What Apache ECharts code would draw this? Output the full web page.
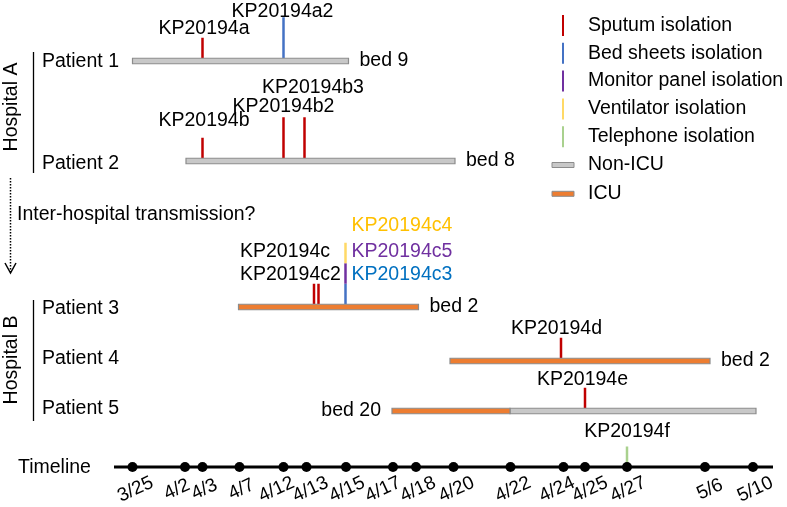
<!DOCTYPE html>
<html><head><meta charset="utf-8">
<script src="https://cdn.jsdelivr.net/npm/echarts@6/dist/echarts.min.js"></script>
<style>html,body{margin:0;padding:0;background:#fff}#c{width:787px;height:507px}</style>
</head><body><div id="c"></div>
<script>
// ---------------- data ----------------
const dateLabels = ['3/25','4/2','4/3','4/7','4/12','4/13','4/15','4/17','4/18','4/20','4/22','4/24','4/25','4/27','5/6','5/10'];
// schematic (non-linear) timeline positions of each date
const datePositions = [132.5,185,202.5,239.5,283.5,306.5,346,393,416,453.5,510.5,563.5,585,627,705,753];
const patients = ['Patient 1','Patient 2','Patient 3','Patient 4','Patient 5'];
const beds = ['bed 9','bed 8','bed 2','bed 2','bed 20'];
const hospitals = ['Hospital A','Hospital B'];
// stays: [patientIndex, start, end] on the schematic timeline
const nonIcuStays = [[0,132.5,348.5],[1,186,455],[4,510,756]];
const icuStays = [[2,238.5,418.5],[3,450,710],[4,392,510]];
// isolates: [row (0-4 patients, 5 timeline), position, fromLevel, toLevel, isolate]
const sputum = [[0,202.5,0,1,'KP20194a'],[1,202.5,0,1,'KP20194b'],[1,283.5,0,2,'KP20194b2'],[1,304.5,0,2,'KP20194b3'],[2,314,0,1,'KP20194c'],[2,318.5,0,1,'KP20194c2'],[3,561,0,1,'KP20194d'],[4,585,0,1,'KP20194e']];
const bedSheets = [[0,283.5,0,2,'KP20194a2'],[2,345.5,0,1,'KP20194c3']];
const monitorPanel = [[2,345.5,1,2,'KP20194c5']];
const ventilator = [[2,345.5,2,3,'KP20194c4']];
const telephone = [[5,627,0,1,'KP20194f']];

// ---------------- layout / style ----------------
const FONT = '"Liberation Sans", Arial, Helvetica, sans-serif';
const FS = 19.5;
const laneY = [61, 161, 307, 361, 411, 467];
const nameY = [62, 164, 309, 359, 409];
const nameX = 42;
const barH = 5.5;
const unit = 20.5;
const timelineExtent = [114, 773];
const dateLabelShift = [3,-8,2,2,-7,4,1,-10,2,3,2.5,-6.5,5,1,5,2.3];
const bedSide = ['right','right','right','right','left'];
const bedGap = 11;
const C = {sputum:'#c00000', bed:'#4472c4', monitor:'#7030a0', vent:'#ffd966', tel:'#a9d18e', nonicu:'#c8c8c8', icu:'#ed7d31', border:'#8c8c8c'};
const labelLayout = {
  KP20194a:{dx:1.5,dy:-9.5}, KP20194a2:{dx:-1,dy:-6},
  KP20194b:{dx:1.5,dy:-17.5}, KP20194b2:{dx:0,dy:-10.5}, KP20194b3:{dx:8.5,dy:-30},
  KP20194c:{dx:-74,dy:-32,align:'left'}, KP20194c2:{dx:-78.5,dy:-9,align:'left'},
  KP20194c3:{dx:6,dy:-9,align:'left',color:'#0070c0'},
  KP20194c5:{dx:6,dy:-11.5,align:'left',color:'#7030a0'},
  KP20194c4:{dx:6,dy:-17.5,align:'left',color:'#ffc000'},
  KP20194d:{dx:-4.5,dy:-9}, KP20194e:{dx:-2.5,dy:-8}, KP20194f:{dx:0,dy:-14.5}
};

function isoSeries(name, color, rows) {
  return {
    type:'custom', name, coordinateSystem:'cartesian2d', z:3,
    itemStyle:{color, borderWidth:0},
    data: rows.map(r => [r[1], laneY[r[0]], r[2], r[3], r[0]]),
    encode:{x:0, y:1},
    renderItem(params, api) {
      const x = api.value(0), y = api.value(1), f = api.value(2), t = api.value(3), row = api.value(4);
      const base = row === 5 ? 0 : barH / 2;
      const p0 = api.coord([x, y - base - f * unit]);
      const p1 = api.coord([x, y - base - t * unit]);
      const label = rows[params.dataIndex][4];
      const L = labelLayout[label] || {dx:0, dy:-9};
      return {type:'group', children:[
        {type:'line', shape:{x1:p0[0], y1:p0[1], x2:p1[0], y2:p1[1]}, style:{stroke:color, lineWidth:2.5}},
        {type:'text', x:p1[0] + L.dx, y:p1[1] + L.dy, style:{text:label, fill:L.color || '#000', font:FS + 'px ' + FONT, align:L.align || 'center', verticalAlign:'middle'}}
      ]};
    }
  };
}
function staySeries(name, fill, rows) {
  return {
    type:'custom', name, coordinateSystem:'cartesian2d', z:4,
    itemStyle:{color:fill, borderColor:C.border, borderWidth:1},
    data: rows.map(r => [r[1], r[2], laneY[r[0]]]),
    encode:{x:[0,1], y:2},
    renderItem(params, api) {
      const a = api.coord([api.value(0), api.value(2)]);
      const b = api.coord([api.value(1), api.value(2)]);
      return {type:'rect', shape:{x:a[0], y:a[1] - barH / 2, width:b[0] - a[0], height:barH},
        style:{fill, stroke:C.border, lineWidth:1.2}};
    }
  };
}
const allStays = nonIcuStays.concat(icuStays);
const patientRows = patients.map((p, i) => {
  const s = allStays.filter(r => r[0] === i);
  return [Math.min(...s.map(r => r[1])), Math.max(...s.map(r => r[2])), laneY[i], nameY[i], i];
});

const isoIcon = 'path://M0 0M31 21M10 0H12V21H10Z';
const stayIcon = 'path://M0 0M31 21M0 8H22V13H0Z';

const chart = echarts.init(document.getElementById('c'), null, {renderer:'canvas'});
chart.setOption({
  animation:false,
  backgroundColor:'#fff',
  textStyle:{fontFamily:FONT},
  grid:{left:0, right:0, top:0, bottom:0, containLabel:false},
  xAxis:{type:'value', min:0, max:787, show:false},
  yAxis:{type:'value', min:0, max:507, inverse:true, show:false},
  legend:{
    orient:'vertical', left:551.5, top:15, padding:0, itemWidth:31, itemHeight:21, itemGap:6.8,
    selectedMode:false,
    textStyle:{fontSize:FS, color:'#000', fontFamily:FONT, lineHeight:21},
    data:[
      {name:'Sputum isolation', icon:isoIcon, itemStyle:{color:C.sputum, borderWidth:0}},
      {name:'Bed sheets isolation', icon:isoIcon, itemStyle:{color:C.bed, borderWidth:0}},
      {name:'Monitor panel isolation', icon:isoIcon, itemStyle:{color:C.monitor, borderWidth:0}},
      {name:'Ventilator isolation', icon:isoIcon, itemStyle:{color:C.vent, borderWidth:0}},
      {name:'Telephone isolation', icon:isoIcon, itemStyle:{color:C.tel, borderWidth:0}},
      {name:'Non-ICU', icon:stayIcon, itemStyle:{color:C.nonicu, borderColor:C.border, borderWidth:1}},
      {name:'ICU', icon:stayIcon, itemStyle:{color:C.icu, borderColor:C.border, borderWidth:1}}
    ]
  },
  graphic:[
    {type:'text', x:12, y:107, rotation:Math.PI/2, style:{text:hospitals[0], font:FS + 'px ' + FONT, fill:'#000', align:'center', verticalAlign:'middle'}},
    {type:'text', x:12, y:360, rotation:Math.PI/2, style:{text:hospitals[1], font:FS + 'px ' + FONT, fill:'#000', align:'center', verticalAlign:'middle'}},
    {type:'line', shape:{x1:33.5, y1:52, x2:33.5, y2:173}, style:{stroke:'#000', lineWidth:1.3}},
    {type:'line', shape:{x1:33.5, y1:300, x2:33.5, y2:421}, style:{stroke:'#000', lineWidth:1.3}},
    {type:'line', shape:{x1:10.5, y1:178, x2:10.5, y2:272}, style:{stroke:'#000', lineWidth:1.5, lineDash:[1.5,1.5]}},
    {type:'polyline', shape:{points:[[5,263],[10.5,273],[16,263]]}, style:{stroke:'#000', lineWidth:1.5, fill:null}},
    {type:'text', x:17, y:215, style:{text:'Inter-hospital transmission?', font:FS + 'px ' + FONT, fill:'#000', align:'left', verticalAlign:'middle'}},
    {type:'text', x:18, y:468, style:{text:'Timeline', font:FS + 'px ' + FONT, fill:'#000', align:'left', verticalAlign:'middle'}}
  ],
  series:[
    {type:'line', name:'timeline', silent:true, symbol:'none', z:2,
     data:[[timelineExtent[0], laneY[5]], [timelineExtent[1], laneY[5]]],
     lineStyle:{color:'#000', width:2.8}},
    {type:'custom', name:'dates', coordinateSystem:'cartesian2d', z:5, silent:true,
     data: datePositions.map(p => [p, laneY[5]]),
     encode:{x:0, y:1},
     renderItem(params, api) {
       const i = params.dataIndex;
       const p = api.coord([api.value(0), api.value(1)]);
       return {type:'group', children:[
         {type:'circle', shape:{cx:p[0], cy:p[1], r:5}, style:{fill:'#000'}},
         {type:'text', x:p[0] + dateLabelShift[i], y:p[1] + 22.5, rotation:25 * Math.PI / 180,
          style:{text:dateLabels[i], font:'19px ' + FONT, fill:'#000', align:'center', verticalAlign:'middle'}}
       ]};
     }},
    isoSeries('Sputum isolation', C.sputum, sputum),
    isoSeries('Bed sheets isolation', C.bed, bedSheets),
    isoSeries('Monitor panel isolation', C.monitor, monitorPanel),
    isoSeries('Ventilator isolation', C.vent, ventilator),
    isoSeries('Telephone isolation', C.tel, telephone),
    staySeries('Non-ICU', C.nonicu, nonIcuStays),
    staySeries('ICU', C.icu, icuStays),
    {type:'custom', name:'patient labels', coordinateSystem:'cartesian2d', z:5, silent:true,
     data: patientRows, encode:{x:[0,1], y:2},
     renderItem(params, api) {
       const i = params.dataIndex;
       const start = api.coord([api.value(0), api.value(2)]);
       const end = api.coord([api.value(1), api.value(2)]);
       const nm = api.coord([nameX, api.value(3)]);
       const right = bedSide[i] === 'right';
       return {type:'group', children:[
         {type:'text', x:nm[0], y:nm[1], style:{text:patients[i], font:FS + 'px ' + FONT, fill:'#000', align:'left', verticalAlign:'middle'}},
         {type:'text', x: right ? end[0] + bedGap : start[0] - bedGap, y:end[1],
          style:{text:beds[i], font:FS + 'px ' + FONT, fill:'#000', align: right ? 'left' : 'right', verticalAlign:'middle'}}
       ]};
     }}
  ]
});
</script></body></html>
